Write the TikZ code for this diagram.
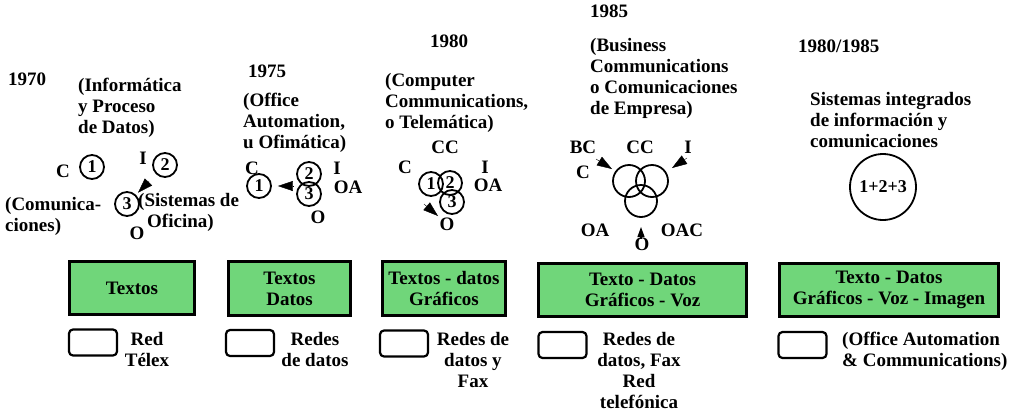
\documentclass[tikz,border=0pt]{standalone}
\usepackage{fontspec}
\setmainfont{Liberation Serif}
\usepackage{tikz}
\usetikzlibrary{arrows.meta,calc,positioning}
\definecolor{boxgreen}{RGB}{112,214,122}

\begin{document}
\begin{tikzpicture}[x=1pt, y=-1pt,
    txt/.style={font=\bfseries\fontsize{19}{21}\selectfont, inner sep=0pt},
    lbl/.style={txt, anchor=center},
    para/.style={txt, align=left, anchor=north west},
    netlbl/.style={txt, align=center, anchor=north},
    ring/.style={circle, draw, line width=1.8pt, minimum size=24pt, inner sep=0pt,
        font=\bfseries\fontsize{18}{18}\selectfont},
    bigring/.style={ring, minimum size=32pt},
    greenbox/.style={txt, draw, line width=2.6pt, fill=boxgreen, align=center},
    netbox/.style={draw, line width=2.2pt, rounded corners=4pt, minimum width=48pt, minimum height=26pt},
    tip/.style={-{Triangle[length=15pt,width=10pt]}}]
    \useasboundingbox (0,0) rectangle (1012,418);

    % 1970
    \node[para] (y1) at (8,73) {1970};
    \node[para] (t1) at (78,78) {(Informática\\y Proceso\\de Datos)};
    \node[ring] (c1) at (92,167) {1};
    \node[ring] (c2) at (165,165) {2};
    \node[ring] (c3) at (127,204) {3};
    \node[lbl] (c1l) at (63,171) {C};
    \node[lbl] (c2l) at (143,158) {I};
    \node[lbl] (c3l) at (137,233) {O};
    \node[para] (n1) at (5,197) {(Comunica-\\ciones)};
    \node[para] (s1) at (138,193) {(Sistemas de\\\hspace*{9pt}Oficina)};
    \draw[tip] ($(c2)!0.42!(c3)$) -- ($(c2)!0.71!(c3)$);

    % 1975
    \node[para] (y2) at (248,65) {1975};
    \node[para] (t2) at (243,93) {(Office\\Automation,\\u Ofimática)};
    \node[ring] (k1) at (259,186) {1};
    \node[ring] (k2) at (309,174) {2};
    \node[ring] (k3) at (309,194) {3};
    \node[lbl] (k1l) at (252,168) {C};
    \node[lbl] (k2l) at (337,168) {I};
    \node[lbl] (k23l) at (348,187) {OA};
    \node[lbl] (k3l) at (318,217) {O};
    \draw[tip] ($(k1.east)+(21,0)$) -- ($(k1.east)+(6,0)$);

    % 1980
    \node[para] (y3) at (430,35) {1980};
    \node[para] (t3) at (385,73) {(Computer\\Communications,\\o Telemática)};
    \node[ring] (m1) at (431,184) {1};
    \node[ring] (m2) at (450,183) {2};
    \node[ring] (m3) at (452,202) {3};
    \node[lbl] (m12l) at (445,147) {CC};
    \node[lbl] (m1l) at (405,167) {C};
    \node[lbl] (m2l) at (485,167) {I};
    \node[lbl] (m23l) at (488,185) {OA};
    \node[lbl] (m3l) at (447,224) {O};
    \draw[tip] ($(m3)+(-28,2)$) -- ($(m3)+(-14,14)$);

    % 1985
    \node[para] (y4) at (590,5) {1985};
    \node[para] (t4) at (590,38) {(Business\\Communications\\o Comunicaciones\\de Empresa)};
    \node[bigring] (b1) at (629,181) {};
    \node[bigring] (b2) at (652,181) {};
    \node[bigring] (b3) at (641,201) {};
    \node[lbl] (bbc) at (583,147) {BC};
    \node[lbl] (bcc) at (640,147) {CC};
    \node[lbl] (bi) at (688,147) {I};
    \node[lbl] (bc) at (583,172) {C};
    \node[lbl] (boa) at (595,230) {OA};
    \node[lbl] (boac) at (682,230) {OAC};
    \node[lbl] (bo) at (642,244) {O};
    \draw[tip] ($(b1)+(-33,-22)$) -- ($(b1)+(-17,-12)$);
    \draw[tip] ($(b2)+(35,-23)$) -- ($(b2)+(20,-13)$);
    \draw[-{Triangle[length=10pt,width=7pt]}, line width=1.2pt] ($(b3)+(0,38)$) -- ($(b3)+(0,26)$);

    % 1980/1985
    \node[para] (y5) at (798,40) {1980/1985};
    \node[para] (t5) at (810,92) {Sistemas integrados\\de información y\\comunicaciones};
    \node[ring, minimum size=66pt] (all) at (883,187) {1+2+3};

    % servicios
    \node[greenbox, minimum width=125pt, minimum height=53pt] (g1) at (132,288) {Textos};
    \node[greenbox, minimum width=122pt, minimum height=54pt] (g2) at (289.5,288.5) {Textos\\Datos};
    \node[greenbox, minimum width=123pt, minimum height=54pt] (g3) at (444,288.5) {Textos - datos\\Gráficos};
    \node[greenbox, minimum width=208pt, minimum height=53pt] (g4) at (642.5,290) {Texto - Datos\\Gráficos - Voz};
    \node[greenbox, minimum width=219pt, minimum height=53pt] (g5) at (889,290) {Texto - Datos\\Gráficos - Voz - Imagen};

    % redes
    \node[netbox] (r1) at (93,342.5) {};
    \node[netbox] (r2) at (250,343) {};
    \node[netbox] (r3) at (404,343.5) {};
    \node[netbox] (r4) at (562.5,345) {};
    \node[netbox] (r5) at (802.5,345) {};
    \node[netlbl] (r1l) at (147,332) {Red\\Télex};
    \node[netlbl] (r2l) at (315,332) {Redes\\de datos};
    \node[netlbl] (r3l) at (473,332) {Redes de\\datos y\\Fax};
    \node[netlbl] (r4l) at (639,332) {Redes de\\datos, Fax\\Red\\telefónica};
    \node[para] (r5l) at (842,332) {(Office Automation\\\& Communications)};
\end{tikzpicture}
\end{document}
